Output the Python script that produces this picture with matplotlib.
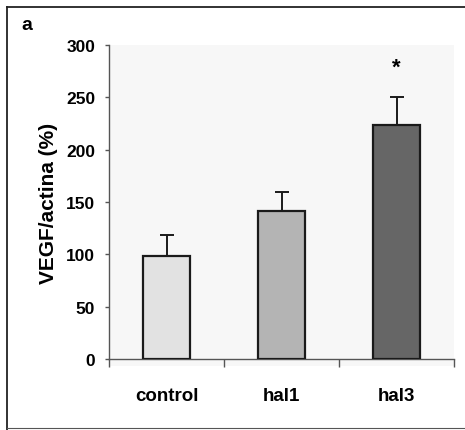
import matplotlib
matplotlib.use("Agg")
import matplotlib.pyplot as plt
from matplotlib.patches import Rectangle
from matplotlib.lines import Line2D

categories = ["control", "hal1", "hal3"]
values = [98, 141, 224]
errors = [20, 19, 26]
bar_colors = ["#e2e2e2", "#b4b4b4", "#666666"]
yticks = [0, 50, 100, 150, 200, 250, 300]

plt.rcParams["font.family"] = ["Liberation Sans", "DejaVu Sans"]
plt.rcParams["font.weight"] = "bold"

W, H = 465, 431
fig = plt.figure(figsize=(W / 100, H / 100), dpi=100)
fig.patch.set_facecolor("white")

# outer frame lines (top and left, faint bottom)
fig.add_artist(Line2D([7 / W, 1.0], [1 - 8 / H, 1 - 8 / H], color="#222222", lw=1.3))
fig.add_artist(Line2D([7 / W, 7 / W], [0, 1 - 8 / H], color="#222222", lw=1.3))
fig.add_artist(Line2D([7 / W, 1.0], [2 / H, 2 / H], color="#555555", lw=0.8))

# plot area background
fig.add_artist(Rectangle((109 / W, (H - 367) / H), (454 - 109) / W, (367 - 46) / H,
                         facecolor="#f7f7f7", edgecolor="none", zorder=0))

ax = fig.add_axes([109 / W, (H - 360) / H, (454 - 109) / W, (360 - 46) / H])
ax.set_facecolor("none")

x = range(len(categories))
ax.bar(x, values, width=0.41, color=bar_colors, edgecolor="#1a1a1a", linewidth=1.6, zorder=3)
ax.errorbar(x, values, yerr=[[0, 0, 0], errors], fmt="none", ecolor="#1a1a1a",
            elinewidth=1.4, capsize=5, capthick=1.4, zorder=2)

ax.text(2, 279, "*", ha="center", va="center", fontsize=16, fontweight="bold")

ax.set_xlim(-0.5, 2.5)
ax.set_ylim(0, 300)
ax.set_yticks(yticks)
ax.set_yticklabels([str(t) for t in yticks])
ax.tick_params(axis="y", direction="out", length=3, width=1, color="#555555",
               pad=7, labelsize=12.5)

ax.set_xticks(list(x))
ax.set_xticklabels(categories)
ax.tick_params(axis="x", which="major", length=0, pad=20, labelsize=13.5)
ax.set_xticks([-0.5, 0.5, 1.5, 2.5], minor=True)
ax.tick_params(axis="x", which="minor", direction="out", length=6, width=1, color="#555555")

for lab in ax.get_xticklabels() + ax.get_yticklabels():
    lab.set_fontweight("bold")

for s in ["top", "right"]:
    ax.spines[s].set_visible(False)
ax.spines["left"].set_color("#555555")
ax.spines["bottom"].set_color("#555555")
ax.spines["left"].set_linewidth(1.0)
ax.spines["bottom"].set_linewidth(1.0)

ax.set_ylabel("VEGF/actina (%)", fontsize=15, fontweight="bold", labelpad=6)

fig.text(21 / W, 1 - 25 / H, "a", fontsize=14, fontweight="bold", ha="left", va="center")

fig.savefig("out.png", dpi=100)
